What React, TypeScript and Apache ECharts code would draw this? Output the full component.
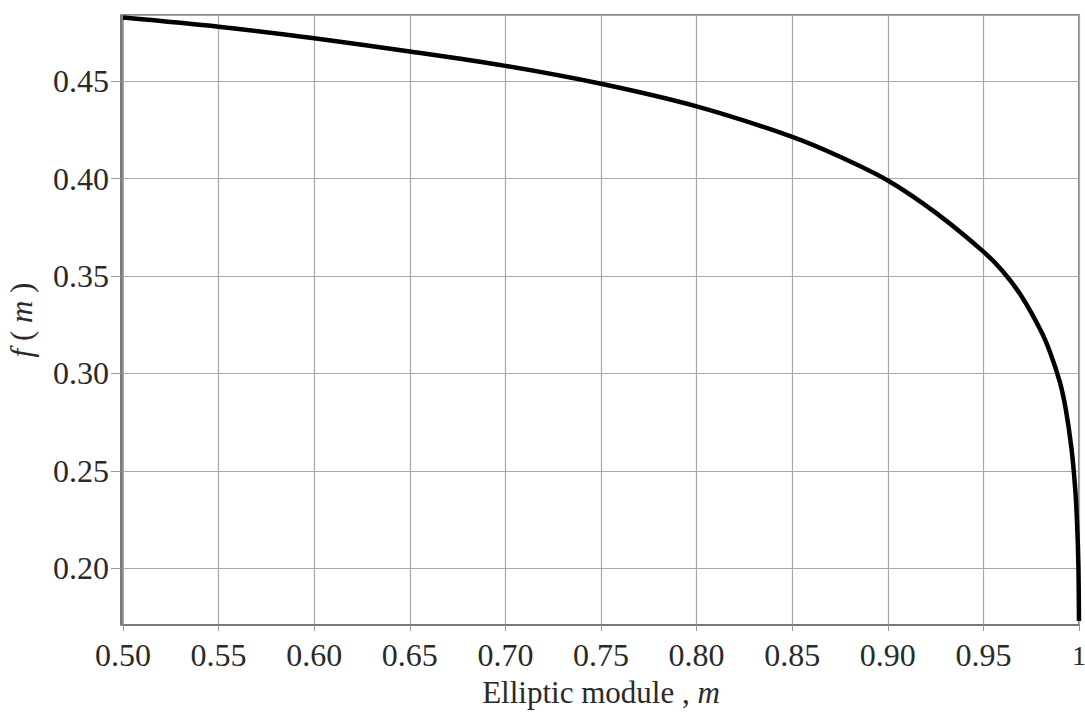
import React, { useEffect, useRef } from "react";
import * as echarts from "echarts";

const mValues = [0.5, 0.55, 0.6, 0.65, 0.7, 0.75, 0.8, 0.85, 0.875, 0.9, 0.925, 0.95, 0.96, 0.97, 0.98, 0.985, 0.99, 0.993, 0.996, 0.998, 0.999, 0.9997, 1.0];
const fValues = [0.4826, 0.4779, 0.472, 0.4652, 0.4578, 0.4486, 0.437, 0.4214, 0.4112, 0.399, 0.3825, 0.3625, 0.3525, 0.3395, 0.322, 0.3105, 0.2955, 0.282, 0.262, 0.241, 0.223, 0.201, 0.173];

const xMin = 0.5;
const xMax = 1.0;
const xInterval = 0.05;
const yMin = 0.1709;
const yMax = 0.4839;

const FONT = "'Liberation Serif', 'Times New Roman', serif";

export default function App() {
  const ref = useRef<HTMLDivElement>(null);
  useEffect(() => {
    document.body.style.margin = "0";
    const chart = echarts.init(ref.current!, null, { renderer: "svg" });
    const data = mValues.map((m, i) => [m, fValues[i]]);
    chart.setOption({
      animation: false,
      backgroundColor: "#ffffff",
      textStyle: { fontFamily: FONT },
      grid: {
        left: 123,
        right: 6,
        top: 15,
        bottom: 88,
        containLabel: false,
        outerBoundsMode: "none",
        show: true,
        borderColor: "#8a8a8a",
        borderWidth: 2,
        backgroundColor: "transparent",
      },
      xAxis: {
        type: "value",
        min: xMin,
        max: xMax,
        interval: xInterval,
        name: "{n|Elliptic module , }{i|m}",
        nameLocation: "middle",
        nameGap: 51,
        nameTextStyle: {
          rich: {
            n: { fontFamily: FONT, fontSize: 31, lineHeight: 32, color: "#2a2a2a" },
            i: { fontFamily: FONT, fontSize: 31, lineHeight: 32, fontStyle: "italic", color: "#2a2a2a" },
          },
        },
        axisLine: { show: true, lineStyle: { color: "#7a7a7a", width: 2 } },
        axisTick: { show: true, length: 6, lineStyle: { color: "#999" } },
        axisLabel: {
          fontFamily: FONT,
          fontSize: 32,
          color: "#2a2a2a",
          margin: 14,
          formatter: (v: number) => (Math.abs(v - 1) < 1e-9 ? "{one|1}" : v.toFixed(2)),
          rich: {
            one: { fontFamily: FONT, fontSize: 28, lineHeight: 32, color: "#2a2a2a" },
          },
        },
        splitLine: { show: true, lineStyle: { color: "#a8a8a8", width: 1.2 } },
      },
      yAxis: {
        type: "value",
        min: yMin,
        max: yMax,
        offset: 2,
        name: "{i|f}{n| ( }{i|m}{n| )}",
        nameLocation: "middle",
        nameGap: 84,
        nameTextStyle: {
          rich: {
            n: { fontFamily: FONT, fontSize: 31, lineHeight: 32, color: "#2a2a2a" },
            i: { fontFamily: FONT, fontSize: 31, lineHeight: 32, fontStyle: "italic", color: "#2a2a2a" },
          },
        },
        axisLine: { show: true, lineStyle: { color: "#7a7a7a", width: 2 } },
        axisTick: { show: true, length: 10, lineStyle: { color: "#999" } },
        axisLabel: {
          fontFamily: FONT,
          fontSize: 32,
          color: "#2a2a2a",
          margin: 12,
          showMinLabel: false,
          showMaxLabel: false,
          formatter: (v: number) => v.toFixed(2),
        },
        splitLine: { show: true, lineStyle: { color: "#a8a8a8", width: 1.2 } },
      },
      series: [
        {
          type: "line",
          data,
          showSymbol: false,
          smooth: 0.3,
          lineStyle: { color: "#000", width: 4.5 },
          clip: true,
        },
      ],
    });
    return () => chart.dispose();
  }, []);
  return <div ref={ref} style={{ width: 1085, height: 713 }} />;
}
